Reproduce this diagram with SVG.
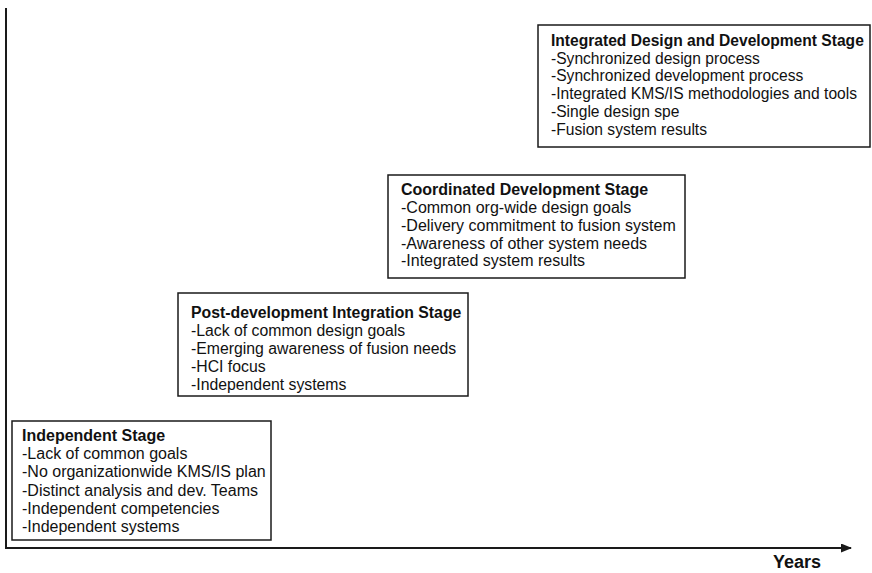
<svg xmlns="http://www.w3.org/2000/svg" width="872" height="573" viewBox="0 0 872 573">
  <style>
    .box { fill: #ffffff; stroke: #1a1a1a; stroke-width: 1.5; }
    .axis { stroke: #1a1a1a; stroke-width: 2; fill: none; }
    text { font-family: "Liberation Sans", Arial, sans-serif; font-size: 16px; fill: #111111; }
    #stage-integrated text { font-size: 15.6px; }
    #stage-post-development text { font-size: 15.8px; }
    .title { font-weight: bold; }
    .axis-label { font-weight: bold; font-size: 18px; }
  </style>
  <defs>
    <marker id="arrow" markerWidth="11" markerHeight="9" refX="10" refY="4.5" orient="auto" markerUnits="userSpaceOnUse">
      <path d="M0,0 L11,4.5 L0,9 Z" fill="#1a1a1a"/>
    </marker>
  </defs>

  <rect width="872" height="573" fill="#ffffff"/>

  <!-- axes -->
  <g id="connectors">
    <line class="axis" x1="6" y1="8" x2="6" y2="548"/>
    <line class="axis" x1="5" y1="548" x2="851" y2="548" marker-end="url(#arrow)"/>
  </g>
  <text x="773" y="568" class="axis-label">Years</text>

  <g id="stage-integrated">
    <rect class="box" x="538" y="25" width="332" height="122"/>
    <text x="551" y="46" class="title">Integrated Design and Development Stage</text>
    <text x="551" y="63.7">-Synchronized design process</text>
    <text x="551" y="81.4">-Synchronized development process</text>
    <text x="551" y="99.1">-Integrated KMS/IS methodologies and tools</text>
    <text x="551" y="116.8">-Single design spe</text>
    <text x="551" y="134.5">-Fusion system results</text>
  </g>

  <g id="stage-coordinated">
    <rect class="box" x="388" y="175" width="297" height="103"/>
    <text x="401" y="195" class="title">Coordinated Development Stage</text>
    <text x="401" y="213">-Common org-wide design goals</text>
    <text x="401" y="231">-Delivery commitment to fusion system</text>
    <text x="401" y="248.5">-Awareness of other system needs</text>
    <text x="401" y="266">-Integrated system results</text>
  </g>

  <g id="stage-post-development">
    <rect class="box" x="178" y="293" width="290" height="103"/>
    <text x="191" y="318" class="title">Post-development Integration Stage</text>
    <text x="191" y="336">-Lack of common design goals</text>
    <text x="191" y="354">-Emerging awareness of fusion needs</text>
    <text x="191" y="372">-HCI focus</text>
    <text x="191" y="390">-Independent systems</text>
  </g>

  <g id="stage-independent">
    <rect class="box" x="12" y="421" width="259" height="119"/>
    <text x="22" y="441" class="title">Independent Stage</text>
    <text x="22" y="459">-Lack of common goals</text>
    <text x="22" y="477">-No organizationwide KMS/IS plan</text>
    <text x="22" y="496">-Distinct analysis and dev. Teams</text>
    <text x="22" y="514">-Independent competencies</text>
    <text x="22" y="532">-Independent systems</text>
  </g>
</svg>
